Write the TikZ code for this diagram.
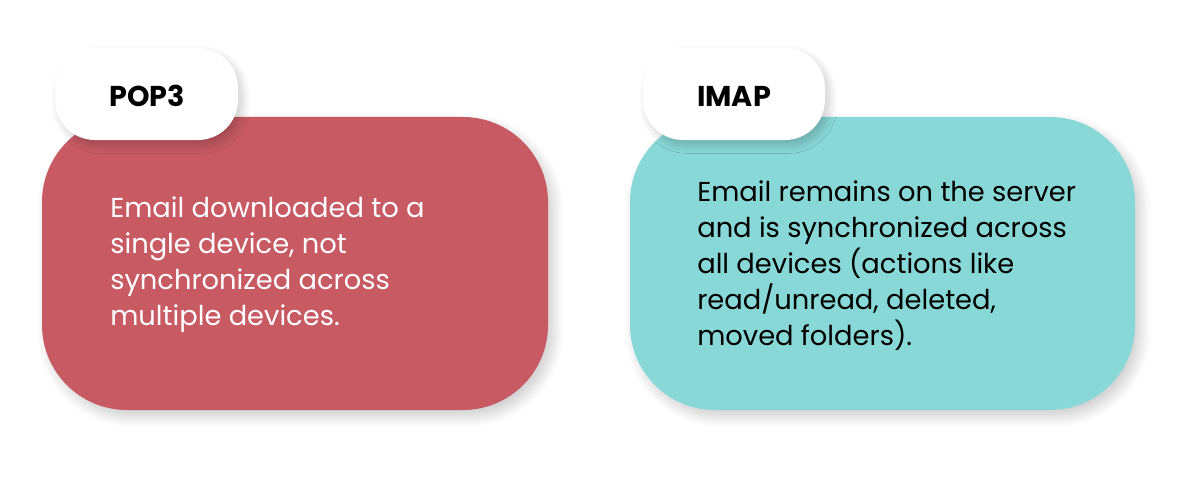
\documentclass[tikz,border=0pt]{standalone}
\usepackage{fontspec}
\setmainfont{Poppins}
\usetikzlibrary{shadows.blur}
\definecolor{redbox}{HTML}{C85A64}
\definecolor{tealbox}{HTML}{88D8D8}
\tikzset{
  card/.style={rounded corners=85pt*0.75, blur shadow={shadow blur steps=10, shadow blur radius=8pt, shadow xshift=4pt, shadow yshift=-5pt, shadow opacity=20}},
  pill/.style={fill=white, rounded corners=40pt*0.75, blur shadow={shadow blur steps=10, shadow blur radius=6pt, shadow xshift=3pt, shadow yshift=-4pt, shadow opacity=20}},
  body/.style={anchor=north west, align=left, font=\fontsize{20.5}{27}\selectfont, inner sep=0pt},
  ttl/.style={font=\fontsize{21.5}{24}\selectfont\bfseries}
}
\begin{document}
\begin{tikzpicture}[x=0.75pt,y=-0.75pt]
\useasboundingbox (0,0) rectangle (1200,478);
\fill[redbox, card] (42,117) rectangle (548,410);
\fill[tealbox, card] (630,117) rectangle (1135,410);
\fill[pill] (55,48) rectangle (238,140);
\fill[pill] (643,48) rectangle (825,140);
\node[ttl] (pop) at (147,96) {POP3};
\node[ttl] (imap) at (734,96) {IMAP};
\node[body, text=white] (t1) at (110,196) {Email downloaded to a\\single device, not\\synchronized across\\multiple devices.};
\node[body, text=black] (t2) at (697,180) {Email remains on the server\\and is synchronized across\\all devices (actions like\\read/unread, deleted,\\moved folders).};
\end{tikzpicture}
\end{document}
